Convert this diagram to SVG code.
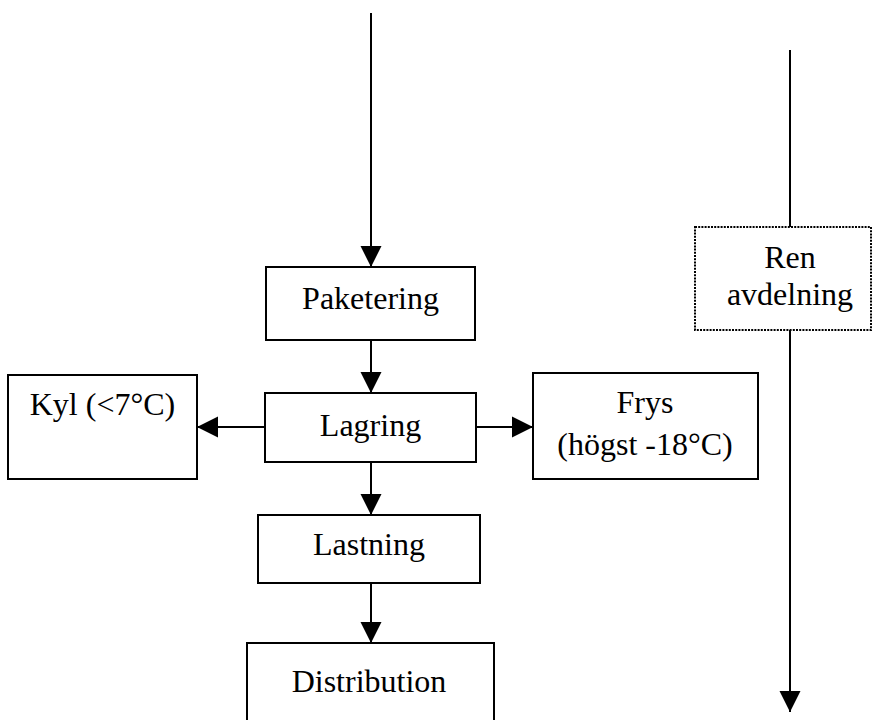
<svg xmlns="http://www.w3.org/2000/svg" width="873" height="720" viewBox="0 0 873 720">
  <style>
    .box { fill: #fff; stroke: #000; stroke-width: 2; }
    .dotted { fill: #fff; stroke: #000; stroke-width: 2; stroke-dasharray: 2 1.2; }
    .lbl { font-family: "Liberation Serif", "Times New Roman", serif; font-size: 32px; fill: #000; text-anchor: middle; }
    .conn { fill: none; stroke: #000; stroke-width: 2; }
  </style>
  <defs>
    <marker id="arrow" markerUnits="userSpaceOnUse" markerWidth="22" markerHeight="22" viewBox="0 0 22 22" refX="21" refY="11" orient="auto">
      <path d="M0,0.5 L21,11 L0,21.5 Z" fill="#000"/>
    </marker>
  </defs>
  <rect width="873" height="720" fill="#fff"/>

  <g id="connectors">
    <line class="conn" x1="371" y1="13" x2="371" y2="267" marker-end="url(#arrow)"/>
    <line class="conn" x1="371" y1="340" x2="371" y2="393" marker-end="url(#arrow)"/>
    <line class="conn" x1="265" y1="427" x2="197" y2="427" marker-end="url(#arrow)"/>
    <line class="conn" x1="476" y1="427" x2="533" y2="427" marker-end="url(#arrow)"/>
    <line class="conn" x1="371" y1="462" x2="371" y2="515" marker-end="url(#arrow)"/>
    <line class="conn" x1="371" y1="583" x2="371" y2="643" marker-end="url(#arrow)"/>
    <line class="conn" x1="790" y1="50" x2="790" y2="227"/>
    <line class="conn" x1="790" y1="330" x2="790" y2="712" marker-end="url(#arrow)"/>
  </g>

  <g id="paketering">
    <rect class="box" x="266" y="267" width="209" height="73"/>
    <text class="lbl" x="370.5" y="309">Paketering</text>
  </g>

  <g id="lagring">
    <rect class="box" x="265" y="393" width="211" height="69"/>
    <text class="lbl" x="370.5" y="436">Lagring</text>
  </g>

  <g id="kyl">
    <rect class="box" x="8" y="375" width="189" height="104"/>
    <text class="lbl" x="102.5" y="415">Kyl (&lt;7°C)</text>
  </g>

  <g id="frys">
    <rect class="box" x="533" y="373" width="225" height="106"/>
    <text class="lbl" x="645" y="413">Frys</text>
    <text class="lbl" x="645" y="455">(högst -18°C)</text>
  </g>

  <g id="lastning">
    <rect class="box" x="258" y="515" width="222" height="68"/>
    <text class="lbl" x="369" y="555">Lastning</text>
  </g>

  <g id="distribution">
    <rect class="box" x="247" y="643" width="247" height="90"/>
    <text class="lbl" x="369" y="692">Distribution</text>
  </g>

  <g id="ren-avdelning">
    <rect class="dotted" x="695" y="227" width="176" height="103"/>
    <text class="lbl" x="790" y="268">Ren</text>
    <text class="lbl" x="790" y="305">avdelning</text>
  </g>
</svg>
